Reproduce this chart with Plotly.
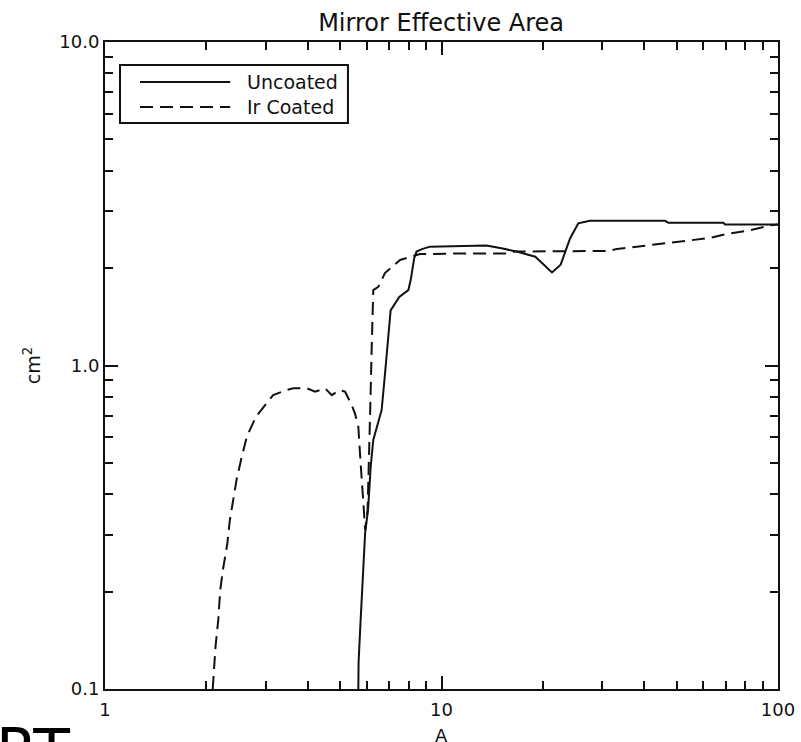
import plotly.graph_objects as go

# Wavelength (A) and effective area (cm^2) for the bare mirror
uncoated_wl = [5.66, 5.67, 5.73, 5.80, 5.87, 5.93, 6.05, 6.10, 6.16, 6.27, 6.64, 6.79,
               6.90, 7.06, 7.49, 7.97, 8.10, 8.30, 8.43, 8.75, 9.24, 11.2, 13.6, 15.2,
               16.7, 19.0, 21.3, 22.6, 24.1, 25.5, 27.6, 46.2, 47.2, 68.8, 69.6, 100.0]
uncoated_area = [0.100, 0.121, 0.152, 0.193, 0.245, 0.304, 0.358, 0.433, 0.487, 0.589, 0.729, 0.935,
                 1.14, 1.48, 1.63, 1.71, 1.84, 2.15, 2.25, 2.29, 2.33, 2.34, 2.35, 2.30,
                 2.25, 2.17, 1.94, 2.05, 2.47, 2.75, 2.80, 2.80, 2.76, 2.76, 2.73, 2.73]

# Wavelength (A) and effective area (cm^2) for the iridium-coated mirror
coated_wl = [2.09, 2.13, 2.17, 2.20, 2.24, 2.27, 2.31, 2.35, 2.41, 2.46, 2.55, 2.64,
             2.81, 3.06, 3.16, 3.47, 3.63, 3.98, 4.21, 4.51, 4.72, 4.99, 5.17, 5.41,
             5.53, 5.66, 5.70, 5.75, 5.86, 5.93, 6.03, 6.07, 6.15, 6.20, 6.27, 6.49,
             6.79, 7.53, 8.15, 8.63, 11.4, 16.0, 16.4, 22.5, 31.0, 33.2, 38.9, 46.7,
             53.6, 62.8, 70.4, 82.6, 94.7, 100.0]
coated_area = [0.100, 0.135, 0.163, 0.202, 0.233, 0.251, 0.282, 0.333, 0.393, 0.443, 0.523, 0.603,
               0.695, 0.773, 0.810, 0.840, 0.850, 0.850, 0.830, 0.850, 0.810, 0.840, 0.830, 0.755,
               0.711, 0.647, 0.548, 0.498, 0.375, 0.310, 0.358, 0.500, 0.782, 1.12, 1.71, 1.75,
               1.93, 2.12, 2.17, 2.21, 2.22, 2.22, 2.25, 2.25, 2.26, 2.29, 2.34, 2.39,
               2.43, 2.48, 2.55, 2.62, 2.71, 2.73]

series_names = ["Uncoated", "Ir Coated"]

x_major = [1, 10, 100]
x_major_text = ["1", "10", "100"]
x_minor = [2, 3, 4, 5, 6, 7, 8, 9, 20, 30, 40, 50, 60, 70, 80, 90]
y_major = [0.1, 1, 10]
y_major_text = ["0.1", "1.0", "10.0"]
y_minor = [0.2, 0.3, 0.4, 0.5, 0.6, 0.7, 0.8, 0.9, 2, 3, 4, 5, 6, 7, 8, 9]

FONT = "DejaVu Sans"
INK = "#111111"
DASH = "13px,7px"

fig = go.Figure()
fig.add_trace(go.Scatter(x=uncoated_wl, y=uncoated_area, mode="lines", name=series_names[0],
                         line=dict(color=INK, width=2), showlegend=False))
fig.add_trace(go.Scatter(x=coated_wl, y=coated_area, mode="lines", name=series_names[1],
                         line=dict(color=INK, width=2, dash=DASH), showlegend=False))

axis_common = dict(
    type="log", showgrid=False, zeroline=False, automargin=False,
    showline=True, linecolor=INK, linewidth=2, mirror="ticks",
    ticks="inside", ticklen=13, tickwidth=2, tickcolor=INK,
    tickfont=dict(family=FONT, size=18, color=INK),
)

fig.update_xaxes(
    **axis_common,
    range=[0, 2],
    tickmode="array", tickvals=x_major, ticktext=x_major_text,
    ticklabelstandoff=3,
    minor=dict(tickmode="array", tickvals=x_minor, ticks="inside", ticklen=8,
               tickwidth=2, tickcolor=INK, showgrid=False),
)
fig.update_yaxes(
    **axis_common,
    range=[-1, 1],
    tickmode="array", tickvals=y_major, ticktext=y_major_text,
    minor=dict(tickmode="array", tickvals=y_minor, ticks="inside", ticklen=8,
               tickwidth=2, tickcolor=INK, showgrid=False),
    title=dict(text="cm<sup>2</sup>", font=dict(family=FONT, size=19, color=INK), standoff=14),
)

# x-axis caption, sitting low against the bottom edge
fig.add_annotation(text="A", xref="paper", yref="paper", x=0.5, y=-0.0720,
                   xanchor="center", yanchor="middle", showarrow=False,
                   font=dict(family=FONT, size=18, color=INK))

# Hand-drawn legend box with long line samples
legend_box = dict(x0=0.0223, x1=0.361, y0=0.8748, y1=0.9645)
fig.add_shape(type="rect", xref="paper", yref="paper", **legend_box,
              line=dict(color=INK, width=2), fillcolor="white", layer="above")
fig.add_shape(type="line", xref="paper", yref="paper", x0=0.0520, x1=0.186,
              y0=0.9380, y1=0.9380, line=dict(color=INK, width=2))
fig.add_shape(type="line", xref="paper", yref="paper", x0=0.0520, x1=0.186,
              y0=0.8995, y1=0.8995, line=dict(color=INK, width=2, dash=DASH))
for name, yy in zip(series_names, [0.9380, 0.8995]):
    fig.add_annotation(text=name, xref="paper", yref="paper", x=0.2080, y=yy,
                       xanchor="left", yanchor="middle", showarrow=False,
                       font=dict(family=FONT, size=19, color=INK))

fig.add_annotation(text="RT", xref="paper", yref="paper", x=-0.163, y=-0.0400,
                   xanchor="left", yanchor="top", showarrow=False, borderpad=0,
                   font=dict(family=FONT, size=60, color="black"))

fig.update_layout(
    width=801, height=742,
    margin=dict(l=105, r=23, t=42, b=53),
    paper_bgcolor="white", plot_bgcolor="white",
    title=dict(text="Mirror Effective Area", x=0.5507, xanchor="center",
               y=0.969, yanchor="middle",
               font=dict(family=FONT, size=24, color=INK)),
    showlegend=False,
)

fig.write_html("out.html")
